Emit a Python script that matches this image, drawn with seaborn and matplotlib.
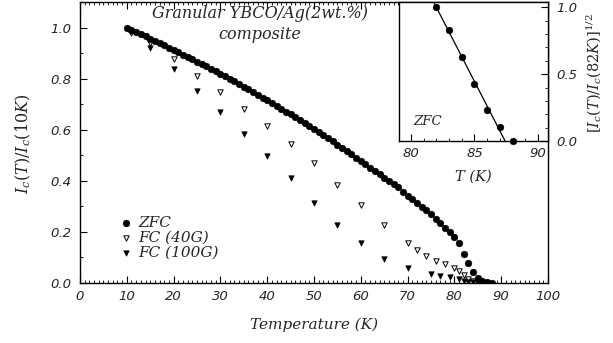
import numpy as np
import pandas as pd
import matplotlib
matplotlib.use("Agg")
import matplotlib.pyplot as plt
import seaborn as sns
from matplotlib.ticker import MultipleLocator
from matplotlib.font_manager import FontProperties

# ---------------- data ----------------
zfc_T = list(range(10, 89))
zfc_v = [1.000, 0.992, 0.983, 0.974, 0.966, 0.957, 0.948, 0.939, 0.930, 0.921,
         0.912, 0.903, 0.894, 0.885, 0.876, 0.866, 0.857, 0.848, 0.838, 0.829,
         0.819, 0.809, 0.799, 0.789, 0.779, 0.768, 0.758, 0.747, 0.737, 0.726,
         0.715, 0.704, 0.693, 0.682, 0.671, 0.660, 0.649, 0.637, 0.626, 0.614,
         0.602, 0.590, 0.578, 0.566, 0.554, 0.542, 0.530, 0.517, 0.504, 0.491,
         0.478, 0.465, 0.452, 0.439, 0.426, 0.413, 0.400, 0.387, 0.374, 0.358,
         0.342, 0.327, 0.312, 0.299, 0.287, 0.270, 0.252, 0.233, 0.217, 0.200,
         0.180, 0.156, 0.113, 0.080, 0.044, 0.018, 0.008, 0.003, 0.000]

fc40_T = [11, 15, 20, 25, 30, 35, 40, 45, 50, 55, 60, 65, 70, 72, 74, 76, 78,
          80, 81, 82, 83, 84, 85]
fc40_v = [0.978, 0.940, 0.878, 0.810, 0.748, 0.682, 0.613, 0.545, 0.469, 0.384,
          0.306, 0.227, 0.155, 0.128, 0.107, 0.087, 0.074, 0.060, 0.048, 0.032,
          0.017, 0.008, 0.003]

fc100_T = [15, 20, 25, 30, 35, 40, 45, 50, 55, 60, 65, 70, 75, 77, 79, 81, 82,
           83, 84, 85]
fc100_v = [0.922, 0.838, 0.753, 0.668, 0.582, 0.497, 0.410, 0.313, 0.227, 0.155,
           0.094, 0.057, 0.034, 0.027, 0.022, 0.015, 0.009, 0.005, 0.003, 0.001]

inset_T = [82, 83, 84, 85, 86, 87, 88]
inset_v = [1.00, 0.83, 0.63, 0.43, 0.23, 0.107, 0.00]

series_labels = ["ZFC", "FC (40G)", "FC (100G)"]
x_ticks = [0, 10, 20, 30, 40, 50, 60, 70, 80, 90, 100]
y_ticks = [0.0, 0.2, 0.4, 0.6, 0.8, 1.0]
inset_xticks = [80, 85, 90]
inset_yticks = [0.0, 0.5, 1.0]

# ---------------- style ----------------
sns.set_theme(style="white")
plt.rcParams["font.family"] = ["DejaVu Sans"]
plt.rcParams["mathtext.fontset"] = "dejavuserif"

serif_it = dict(family="DejaVu Serif", style="italic")
tick_font = dict(family="DejaVu Sans", style="oblique", size=9.5, weight="medium")

fig = plt.figure(figsize=(6.13, 3.43), dpi=100)
ax = fig.add_axes([0.1305, 0.175, 0.7635, 0.819])

sns.scatterplot(x=zfc_T, y=zfc_v, ax=ax, marker="o", s=24, color="black",
                edgecolor="black", linewidth=0.3, label=series_labels[0], zorder=3)
sns.scatterplot(x=fc40_T, y=fc40_v, ax=ax, marker="v", s=15, color="white",
                edgecolor="black", linewidth=0.7, label=series_labels[1], zorder=2)
sns.scatterplot(x=fc100_T, y=fc100_v, ax=ax, marker="v", s=15, color="black",
                edgecolor="black", linewidth=0.5, label=series_labels[2], zorder=2)

ax.set_xlim(0, 100)
ax.set_ylim(0, 1.1)
ax.set_xticks(x_ticks)
ax.set_yticks(y_ticks)
ax.set_xticklabels([str(t) for t in x_ticks], **tick_font)
ax.set_yticklabels([f"{t:.1f}" for t in y_ticks], **tick_font)
ax.xaxis.set_minor_locator(MultipleLocator(1))
ax.yaxis.set_minor_locator(MultipleLocator(0.1))
ax.tick_params(which="both", direction="in", color="black", top=True,
               bottom=True, left=True, right=False)
ax.tick_params(which="major", length=5, width=0.8)
ax.tick_params(which="minor", length=2.5, width=0.6)
ax.tick_params(axis="x", pad=5)
ax.tick_params(axis="y", pad=6)
for sp in ax.spines.values():
    sp.set_color("black")
    sp.set_linewidth(1.0)

ax.set_xlabel("Temperature (K)", fontsize=11, **serif_it)
ax.xaxis.set_label_coords(0.5, -0.125)
ax.set_ylabel(r"$I_c(T)/I_c(10K)$", fontsize=11.5)
ax.yaxis.set_label_coords(-0.1, 0.495)

ax.text(0.385, 0.958, "Granular YBCO/Ag(2wt.%)", transform=ax.transAxes,
        ha="center", va="center", fontsize=11.5, **serif_it)
ax.text(0.385, 0.884, "composite", transform=ax.transAxes,
        ha="center", va="center", fontsize=11.5, **serif_it)

leg = ax.legend(loc="upper left", bbox_to_anchor=(0.085, 0.24), frameon=False,
                prop=FontProperties(family="DejaVu Serif", style="italic", size=11),
                handletextpad=0.4, labelspacing=0.08, borderpad=0,
                handlelength=0.8, borderaxespad=0)

# ---------------- inset ----------------
ax2 = fig.add_axes([0.651, 0.589, 0.243, 0.405])
ax2.set_facecolor("white")
sns.scatterplot(x=inset_T, y=inset_v, ax=ax2, marker="o", s=24, color="black",
                edgecolor="black", linewidth=0.3, zorder=3, clip_on=False)
slope, intercept = np.polyfit(inset_T[:-1], inset_v[:-1], 1)
Tc = -intercept / slope
fit_T = np.linspace(80.5, Tc, 50)
sns.lineplot(x=fit_T, y=slope * fit_T + intercept, ax=ax2, color="black",
             linewidth=0.9, zorder=2)
ax2.set_xlim(79.05, 90.8)
ax2.set_ylim(0, 1.04)
ax2.set_xticks(inset_xticks)
ax2.set_yticks(inset_yticks)
ax2.set_xticklabels([str(t) for t in inset_xticks], **tick_font)
ax2.set_yticklabels([f"{t:.1f}" for t in inset_yticks], **tick_font)
ax2.xaxis.set_minor_locator(MultipleLocator(1))
ax2.yaxis.set_minor_locator(MultipleLocator(0.1))
ax2.yaxis.tick_right()
ax2.tick_params(which="both", direction="in", color="black", bottom=True,
                top=False, left=False, right=True, labelright=True, labelleft=False)
ax2.tick_params(which="major", length=5, width=0.8)
ax2.tick_params(which="minor", length=2.5, width=0.6)
ax2.tick_params(axis="x", pad=4)
ax2.tick_params(axis="y", pad=6)
for sp in ax2.spines.values():
    sp.set_color("black")
    sp.set_linewidth(1.0)
ax2.set_xlabel("T (K)", fontsize=10.5, **serif_it)
ax2.xaxis.set_label_coords(0.497, -0.21)
ax2.yaxis.set_label_position("right")
ax2.set_ylabel(r"$[I_c(T)/I_c(82K)]^{1/2}$", fontsize=10.5, rotation=90)
ax2.yaxis.set_label_coords(1.25, 0.49)
ax2.text(0.19, 0.137, "ZFC", transform=ax2.transAxes, ha="center",
         va="center", fontsize=9.5, **serif_it)

fig.savefig("out.png", dpi=100)
